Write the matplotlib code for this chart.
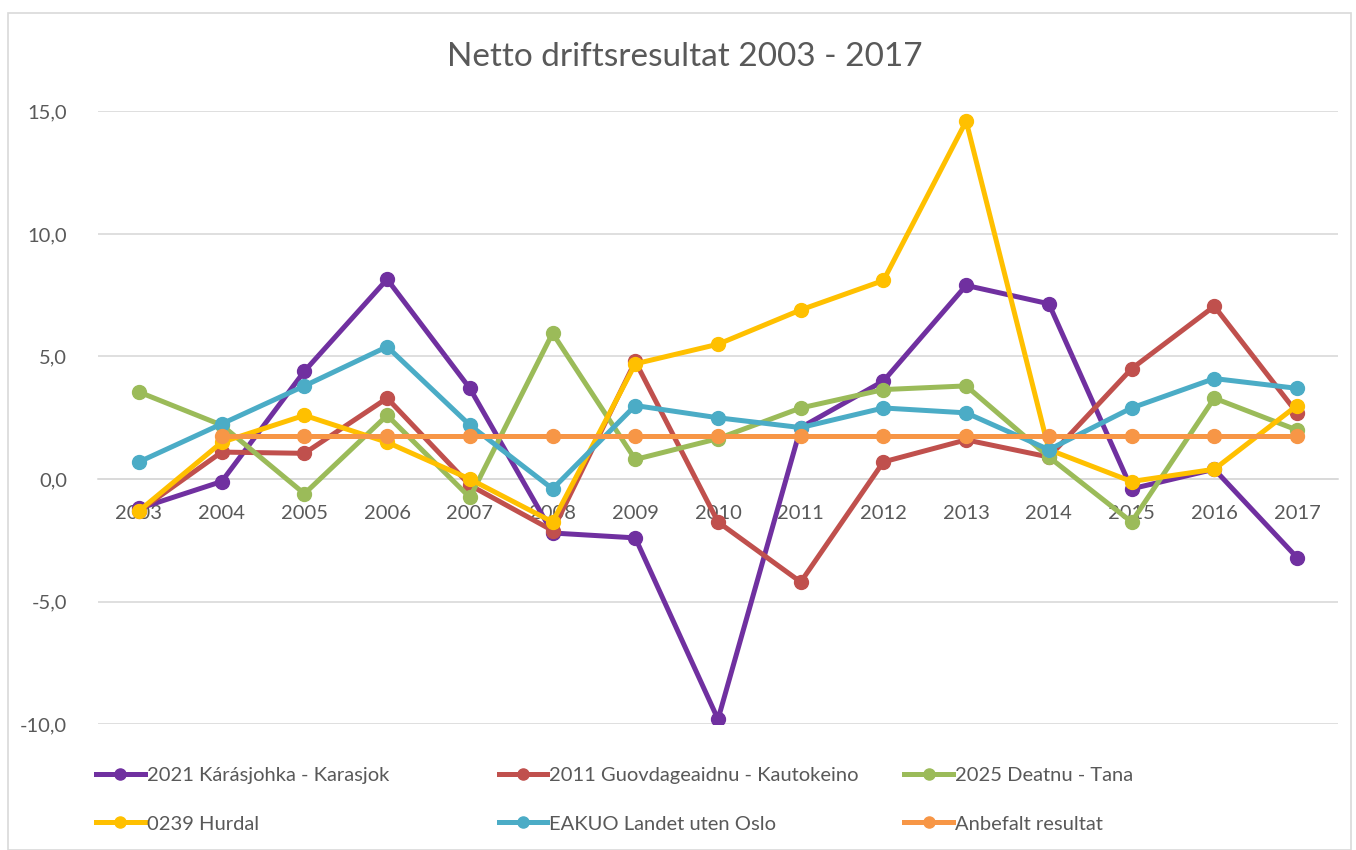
import matplotlib.pyplot as plt
from matplotlib.ticker import FuncFormatter
from matplotlib.patches import Rectangle
import numpy as np

plt.rcParams['font.family'] = ['Lato', 'DejaVu Sans']

years = [str(y) for y in range(2003, 2018)]

karasjok = [-1.2, -0.1, 4.4, 8.15, 3.7, -2.2, -2.4, -9.8, 2.1, 4.0, 7.9, 7.15, -0.4, 0.4, -3.2]
kautokeino = [-1.3, 1.1, 1.05, 3.3, -0.25, -2.1, 4.8, -1.75, -4.2, 0.7, 1.6, 0.9, 4.5, 7.05, 2.7]
tana = [3.55, 2.2, -0.6, 2.6, -0.75, 5.95, 0.8, 1.65, 2.9, 3.65, 3.8, 0.9, -1.75, 3.3, 2.0]
hurdal = [-1.3, 1.5, 2.6, 1.5, 0.0, -1.75, 4.7, 5.5, 6.9, 8.1, 14.6, 1.2, -0.1, 0.4, 3.0]
landet = [0.7, 2.25, 3.8, 5.4, 2.2, -0.4, 3.0, 2.5, 2.1, 2.9, 2.7, 1.2, 2.9, 4.1, 3.7]
anbefalt = [np.nan] + [1.75] * 14

series = [
    ('2021 Kárásjohka - Karasjok', karasjok, '#7030A0'),
    ('2011 Guovdageaidnu - Kautokeino', kautokeino, '#C0504D'),
    ('2025 Deatnu - Tana', tana, '#9BBB59'),
    ('0239 Hurdal', hurdal, '#FFC000'),
    ('EAKUO Landet uten Oslo', landet, '#4BACC6'),
    ('Anbefalt resultat', anbefalt, '#F79646'),
]

fig = plt.figure(figsize=(13.56, 8.5), dpi=100)
ax = fig.add_axes([0.072, 0.148, 0.915, 0.721])

x = np.arange(len(years))
handles = []
for label, vals, color in series:
    h, = ax.plot(x, vals, color=color, linewidth=3.6, marker='o', markersize=10,
                 label=label)
    handles.append(h)

ax.set_xlim(-0.5, len(years) - 0.5)
ax.set_ylim(-10, 15)
ax.set_yticks([-10, -5, 0, 5, 10, 15])
ax.yaxis.set_major_formatter(FuncFormatter(lambda v, p: f'{v:.1f}'.replace('.', ',')))
ax.set_xticks(x)
ax.set_xticklabels(years)
ax.grid(axis='y', color='#D9D9D9', linewidth=1.2)
ax.set_axisbelow(True)
for s in ['top', 'right', 'left']:
    ax.spines[s].set_visible(False)
ax.spines['bottom'].set_position(('data', 0))
ax.spines['bottom'].set_color('#D9D9D9')
ax.spines['bottom'].set_linewidth(1.2)
ax.spines['bottom'].set_zorder(0.5)
ax.tick_params(axis='both', length=0, labelsize=14.5, labelcolor='#595959')
ax.tick_params(axis='y', pad=22)
ax.tick_params(axis='x', pad=19)

fig.text(0.505, 0.933, 'Netto driftsresultat 2003 - 2017', ha='center', va='center',
         fontsize=24, color='#595959')

# legend: three columns, two rows like Excel
col_x = [0.065, 0.362, 0.661]
for i, cx in enumerate(col_x):
    hs = [handles[i], handles[i + 3]]
    fig.legend(hs, [h.get_label() for h in hs], loc='upper left',
               bbox_to_anchor=(cx, 0.107), frameon=False, fontsize=14.5,
               labelcolor='#595959', handlelength=2.4, handletextpad=0.1,
               labelspacing=1.55, borderaxespad=0, markerscale=0.8)

fig.patches.append(Rectangle((0.006, 0.0), 0.99, 0.985, transform=fig.transFigure,
                             fill=False, edgecolor='#D9D9D9', linewidth=1.2))

plt.savefig('out.png', dpi=100)
